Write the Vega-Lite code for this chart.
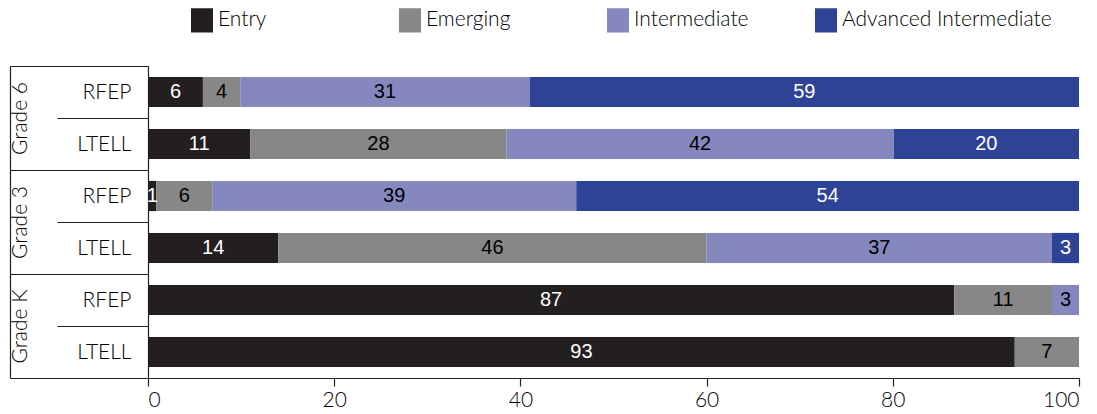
{
  "$schema": "https://vega.github.io/schema/vega-lite/v6.json",
  "width": 931,
  "height": 312,
  "autosize": "none",
  "padding": {"left": 148, "top": 66, "right": 18, "bottom": 36},
  "config": {"view": {"stroke": null}, "font": "Lato"},
  "data": {
    "values": [
      {"row": "6|RFEP", "grade": "Grade 6", "level": "Entry", "k": 1, "value": 5.9, "label": "6"},
      {"row": "6|RFEP", "grade": "Grade 6", "level": "Emerging", "k": 2, "value": 4.0, "label": "4"},
      {"row": "6|RFEP", "grade": "Grade 6", "level": "Intermediate", "k": 3, "value": 31.1, "label": "31"},
      {"row": "6|RFEP", "grade": "Grade 6", "level": "Advanced Intermediate", "k": 4, "value": 59.0, "label": "59"},
      {"row": "6|LTELL", "grade": "Grade 6", "level": "Entry", "k": 1, "value": 11.0, "label": "11"},
      {"row": "6|LTELL", "grade": "Grade 6", "level": "Emerging", "k": 2, "value": 27.5, "label": "28"},
      {"row": "6|LTELL", "grade": "Grade 6", "level": "Intermediate", "k": 3, "value": 41.6, "label": "42"},
      {"row": "6|LTELL", "grade": "Grade 6", "level": "Advanced Intermediate", "k": 4, "value": 19.9, "label": "20"},
      {"row": "3|RFEP", "grade": "Grade 3", "level": "Entry", "k": 1, "value": 0.9, "label": "1"},
      {"row": "3|RFEP", "grade": "Grade 3", "level": "Emerging", "k": 2, "value": 6.0, "label": "6"},
      {"row": "3|RFEP", "grade": "Grade 3", "level": "Intermediate", "k": 3, "value": 39.1, "label": "39"},
      {"row": "3|RFEP", "grade": "Grade 3", "level": "Advanced Intermediate", "k": 4, "value": 54.0, "label": "54"},
      {"row": "3|LTELL", "grade": "Grade 3", "level": "Entry", "k": 1, "value": 14.0, "label": "14"},
      {"row": "3|LTELL", "grade": "Grade 3", "level": "Emerging", "k": 2, "value": 46.0, "label": "46"},
      {"row": "3|LTELL", "grade": "Grade 3", "level": "Intermediate", "k": 3, "value": 37.1, "label": "37"},
      {"row": "3|LTELL", "grade": "Grade 3", "level": "Advanced Intermediate", "k": 4, "value": 2.9, "label": "3"},
      {"row": "K|RFEP", "grade": "Grade K", "level": "Entry", "k": 1, "value": 86.6, "label": "87"},
      {"row": "K|RFEP", "grade": "Grade K", "level": "Emerging", "k": 2, "value": 10.5, "label": "11"},
      {"row": "K|RFEP", "grade": "Grade K", "level": "Intermediate", "k": 3, "value": 2.9, "label": "3"},
      {"row": "K|LTELL", "grade": "Grade K", "level": "Entry", "k": 1, "value": 93.1, "label": "93"},
      {"row": "K|LTELL", "grade": "Grade K", "level": "Emerging", "k": 2, "value": 6.9, "label": "7"}
    ]
  },
  "layer": [
    {
      "mark": {"type": "bar", "height": {"band": 0.58}},
      "encoding": {
        "y": {
          "field": "row", "type": "nominal",
          "sort": ["6|RFEP", "6|LTELL", "3|RFEP", "3|LTELL", "K|RFEP", "K|LTELL"],
          "scale": {"paddingInner": 0, "paddingOuter": 0},
          "axis": {
            "title": null, "orient": "left",
            "domain": true, "domainColor": "#231f20", "domainWidth": 1.2,
            "ticks": true, "tickBand": "extent", "tickSize": 91, "tickColor": "#231f20", "tickWidth": 1.2,
            "labelExpr": "split(datum.label, '|')[1]",
            "labelPadding": -74, "labelAlign": "right", "labelBaseline": "middle",
            "labelFont": "Lato", "labelFontWeight": 300, "labelFontSize": 21, "labelColor": "#000000"
          }
        },
        "x": {
          "field": "value", "type": "quantitative", "stack": "zero",
          "scale": {"domain": [0, 100], "nice": false},
          "axis": {
            "title": null, "values": [0, 20, 40, 60, 80, 100], "grid": false,
            "domainColor": "#231f20", "domainWidth": 1.2, "tickColor": "#231f20", "tickSize": 8, "tickWidth": 1.2,
            "labelFont": "Lato", "labelFontWeight": 300, "labelFontSize": 21, "labelColor": "#000000", "labelPadding": 3
          }
        },
        "color": {
          "field": "level", "type": "nominal",
          "scale": {
            "domain": ["Entry", "Emerging", "Intermediate", "Advanced Intermediate"],
            "range": ["#231f20", "#878787", "#8588bf", "#2e4396"]
          },
          "legend": {
            "title": null, "orient": "none", "legendX": 43, "legendY": -57,
            "direction": "horizontal", "columns": 4, "columnPadding": 21,
            "symbolType": "M-1,-1.1h2v2.2h-2z M16,0", "symbolSize": 484, "symbolStrokeWidth": 0, "symbolOpacity": 1,
            "labelFont": "Lato", "labelFontWeight": 300, "labelFontSize": 21, "labelColor": "#000000", "labelOffset": 5,
            "labelLimit": 300
          }
        },
        "order": {"field": "k", "type": "quantitative"}
      }
    },
    {
      "mark": {"type": "text", "font": "Liberation Sans", "fontSize": 20, "baseline": "middle", "align": "center"},
      "encoding": {
        "y": {
          "field": "row", "type": "nominal",
          "sort": ["6|RFEP", "6|LTELL", "3|RFEP", "3|LTELL", "K|RFEP", "K|LTELL"],
          "scale": {"type": "band", "paddingInner": 0, "paddingOuter": 0},
          "axis": null
        },
        "x": {"field": "value", "type": "quantitative", "stack": "zero", "bandPosition": 0.5},
        "detail": {"field": "level"},
        "order": {"field": "k", "type": "quantitative"},
        "text": {"field": "label"},
        "color": {
          "condition": {"test": "datum.level === 'Entry' || datum.level === 'Advanced Intermediate'", "value": "white"},
          "value": "black"
        }
      }
    },
    {
      "mark": {"type": "text", "opacity": 0},
      "encoding": {
        "y": {
          "field": "grade", "type": "nominal",
          "sort": ["Grade 6", "Grade 3", "Grade K"],
          "scale": {"type": "band", "paddingInner": 0, "paddingOuter": 0},
          "axis": {
            "title": null, "orient": "left", "offset": 138,
            "domain": true, "domainColor": "#231f20", "domainWidth": 1.2,
            "ticks": true, "tickBand": "extent", "tickSize": -138, "tickColor": "#231f20", "tickWidth": 1.2,
            "labelAngle": 270, "labelAlign": "center", "labelBaseline": "middle", "labelPadding": 128,
            "labelFont": "Lato", "labelFontWeight": 300, "labelFontSize": 21, "labelColor": "#000000"
          }
        },
        "text": {"value": ""}
      }
    }
  ],
  "resolve": {"scale": {"y": "independent"}, "axis": {"y": "independent"}}
}
